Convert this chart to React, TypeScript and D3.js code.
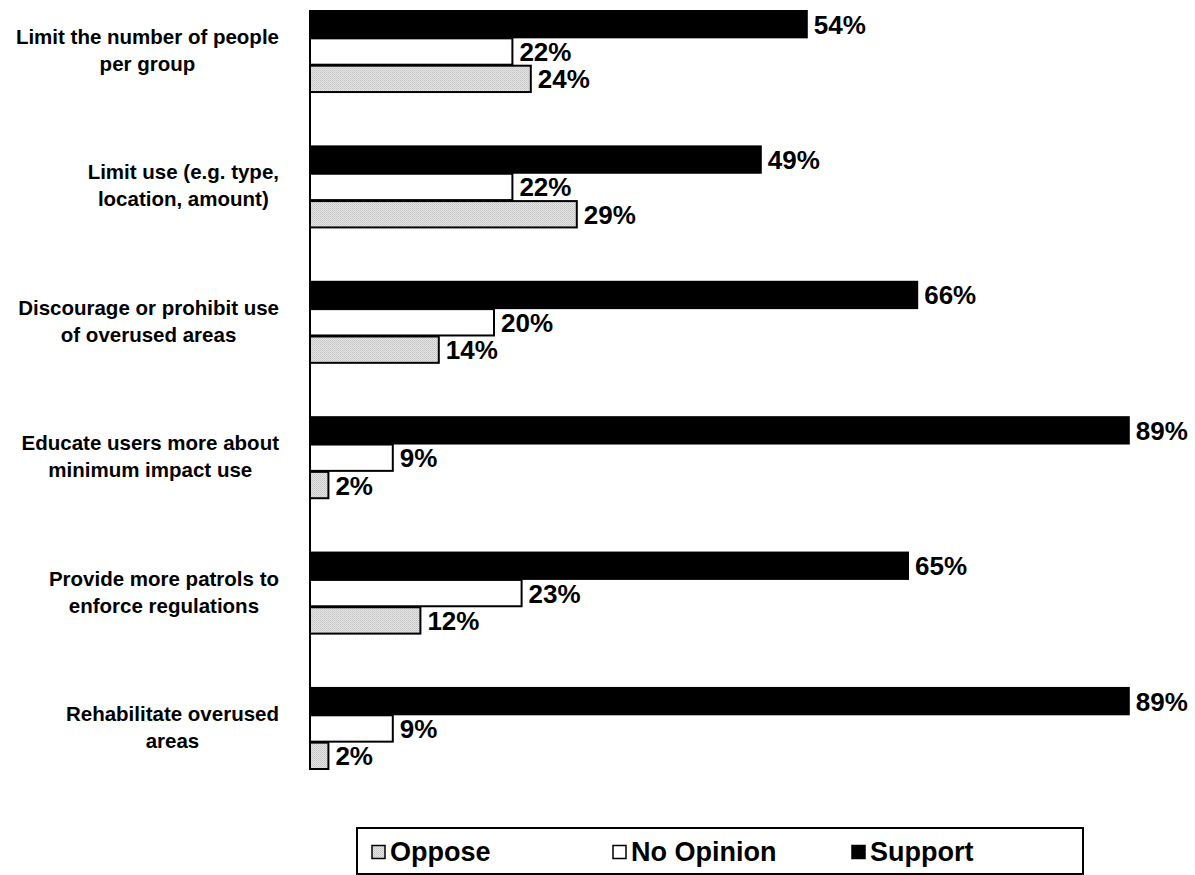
import React from "react";
import * as d3 from "d3";

// Survey: attitudes toward management actions
const categories: string[][] = [
  ["Limit the number of people", "per group"],
  ["Limit use (e.g. type,", "location, amount)"],
  ["Discourage or prohibit use", "of overused areas"],
  ["Educate users more about", "minimum impact use"],
  ["Provide more patrols to", "enforce regulations"],
  ["Rehabilitate overused", "areas"],
];
const support = [54, 49, 66, 89, 65, 89];
const noOpinion = [22, 22, 20, 9, 23, 9];
const oppose = [24, 29, 14, 2, 12, 2];

const seriesKeys = ["Support", "No Opinion", "Oppose"];
const legendKeys = ["Oppose", "No Opinion", "Support"];

const W = 1195;
const H = 875;
const FONT = "'Liberation Sans', Arial, Helvetica, sans-serif";

function measure(text: string, font: string): number {
  if (typeof document === "undefined") return text.length * 10;
  const c = document.createElement("canvas");
  const ctx = c.getContext("2d");
  if (!ctx) return text.length * 10;
  ctx.font = font;
  return ctx.measureText(text).width;
}

export default function App() {
  const ids = categories.map((_, i) => String(i));
  const y = d3.scaleBand<string>().domain(ids).range([10, 769]).paddingInner(0.394).paddingOuter(0);
  const ySub = d3.scaleBand<string>().domain(seriesKeys).range([0, y.bandwidth()]);
  const x = d3.scaleLinear().domain([0, 100]).range([310, 1230]);

  const valuesFor = (i: number) => [support[i], noOpinion[i], oppose[i]];
  const fillFor = (k: string) => (k === "Support" ? "#000" : k === "No Opinion" ? "#fff" : "url(#dots)");

  const catSize = 20.5;
  const catFont = `bold ${catSize}px ${FONT}`;
  const labelRight = 279;
  const valSize = 26;

  const legendSq = [372, 613, 852];

  return (
    <svg width={W} height={H} style={{ position: "absolute", left: 0, top: 0, background: "#fff" }}>
      <defs>
        <pattern id="dots" width="2" height="2" patternUnits="userSpaceOnUse">
          <rect width="2" height="2" fill="#e4e4e4" />
          <rect width="1" height="1" fill="#c4c4c4" />
          <rect x="1" y="1" width="1" height="1" fill="#d0d0d0" />
        </pattern>
      </defs>

      {categories.map((lines, i) => {
        const y0 = y(String(i))!;
        const vals = valuesFor(i);
        const blockW = Math.max(...lines.map((l) => measure(l, catFont)));
        const cx = labelRight - blockW / 2;
        const cy = y0 + y.bandwidth() / 2;
        return (
          <g key={i}>
            <text fontFamily={FONT} fontWeight="bold" fontSize={catSize} textAnchor="middle" fill="#000">
              {lines.map((l, j) => (
                <tspan key={j} x={cx} y={cy - 7 + j * 27}>
                  {l}
                </tspan>
              ))}
            </text>
            {seriesKeys.map((k, j) => {
              const by = y0 + ySub(k)!;
              const bh = ySub.bandwidth();
              const v = vals[j];
              return (
                <g key={k}>
                  <rect
                    x={x(0)}
                    y={by + 1}
                    width={x(v) - x(0)}
                    height={bh - 1}
                    fill={fillFor(k)}
                    stroke="#000"
                    strokeWidth={2}
                  />
                  <text
                    x={x(v) + 7}
                    y={by + bh / 2 + 10}
                    fontFamily={FONT}
                    fontWeight="bold"
                    fontSize={valSize}
                    fill="#000"
                  >
                    {v}%
                  </text>
                </g>
              );
            })}
          </g>
        );
      })}

      {/* category axis */}
      <line x1={x(0)} x2={x(0)} y1={10} y2={769} stroke="#000" strokeWidth={2} />

      {/* legend */}
      <rect x={357} y={828} width={726} height={46} fill="#fff" stroke="#000" strokeWidth={2} />
      {legendKeys.map((k, i) => (
        <g key={k}>
          <rect
            x={legendSq[i]}
            y={845.5}
            width={13}
            height={13}
            fill={fillFor(k)}
            stroke="#000"
            strokeWidth={1.5}
          />
          <text x={legendSq[i] + 18} y={861} fontFamily={FONT} fontWeight="bold" fontSize={27} fill="#000">
            {k}
          </text>
        </g>
      ))}
    </svg>
  );
}
